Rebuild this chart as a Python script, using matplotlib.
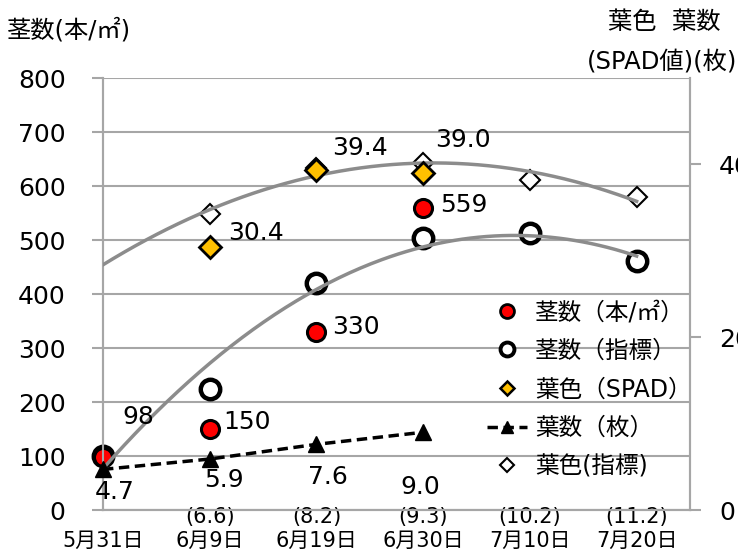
import matplotlib
matplotlib.use("Agg")
import matplotlib.pyplot as plt
import numpy as np
from matplotlib.lines import Line2D

plt.rcParams['font.family'] = ['DejaVu Sans', 'Noto Sans CJK JP']

# ---- data ----
dates = ['5月31日', '6月9日', '6月19日', '6月30日', '7月10日', '7月20日']
stem_count = [98, 150, 330, 559]              # 5/31..6/30 (本/㎡)
stem_index = [100, 224, 420, 504, 513, 461]   # 5/31..7/20
spad = [30.4, 39.4, 39.0]                     # 6/9..6/30
leaf_count = [4.7, 5.9, 7.6, 9.0]             # 5/31..6/30
leaf_index = ['(6.6)', '(8.2)', '(9.3)', '(10.2)', '(11.2)']  # 6/9..7/20
color_index = [34.3, 39.6, 40.2, 38.2, 36.2]  # 6/9..7/20

CJK = ['DejaVu Sans', 'Noto Sans CJK JP']
grid_c = '#A6A6A6'

fig = plt.figure(figsize=(7.38, 5.54), dpi=100)
ax = fig.add_axes([103/738, 1-510/554, 587/738, 432/554])
ax2 = ax.twinx()

ax.set_xlim(0, 5.5)
ax.set_ylim(0, 800)
ax2.set_ylim(0, 50)

ax.set_yticks(np.arange(0, 801, 100))
ax2.set_yticks([0, 20, 40])
ax.yaxis.grid(True, color=grid_c, lw=1.5)
ax.set_axisbelow(True)
for a in (ax, ax2):
    for s in a.spines.values():
        s.set_color(grid_c)
        s.set_linewidth(1.5)
    a.spines['top'].set_visible(False)
ax.tick_params(axis='y', length=8, width=1.5, color=grid_c, labelsize=18, pad=19)
ax2.tick_params(axis='y', length=8, width=1.5, color=grid_c, labelsize=18, pad=13)

ax.set_xticks(range(len(dates)))
ax.set_xticklabels(dates, fontsize=15, family=CJK)
ax.tick_params(axis='x', length=0, pad=15)

x_all = np.arange(len(dates))

# stem index (hollow circles) + trend
ax.plot(x_all, stem_index, ls='none', marker='o', ms=14, mfc='white', mec='black',
        mew=3.2, clip_on=False, zorder=3)
c1 = np.polyfit(x_all, stem_index, 2)
xs = np.linspace(0, 5, 200)
ax.plot(xs, np.polyval(c1, xs), color='#8C8C8C', lw=2.5, zorder=4)

# stem count (red)
x_sc = np.arange(len(stem_count))
ax.plot(x_sc, stem_count, ls='none', marker='o', ms=13, mfc='#FF0000', mec='black',
        mew=2.2, clip_on=False, zorder=3.5)
sc_off = [(19, 40), (14, 7), (16, 5), (17, 3)]
for xi, v, (dx, dy) in zip(x_sc, stem_count, sc_off):
    ax.annotate(f'{v}', (xi, v), xytext=(dx, dy), textcoords='offset pixels',
                ha='left', va='center', fontsize=18, zorder=6)

# right axis: leaf colour index (hollow diamonds) + trend
x_ci = np.arange(1, 6)
ax2.plot(x_ci, color_index, ls='none', marker='D', ms=10, mfc='white', mec='black',
         mew=1.5, zorder=3)
c2 = np.polyfit(x_ci, color_index, 2)
ax2.plot(xs, np.polyval(c2, xs), color='#8C8C8C', lw=2.5, zorder=4)

# SPAD (gold diamonds)
x_sp = np.arange(1, 4)
ax2.plot(x_sp, spad, ls='none', marker='D', ms=11, mfc='#FFC000', mec='black',
         mew=2.0, zorder=5)
sp_off = [(18, 14), (16, 22), (12, 33)]
for xi, v, (dx, dy) in zip(x_sp, spad, sp_off):
    ax2.annotate(f'{v:.1f}', (xi, v), xytext=(dx, dy), textcoords='offset pixels',
                 ha='left', va='center', fontsize=18, zorder=6)

# leaf count (triangles, dashed)
x_lc = np.arange(len(leaf_count))
ax2.plot(x_lc, leaf_count, color='black', ls=(0, (3, 1.6)), lw=2.5, marker='^', ms=11,
         mfc='black', mec='black', clip_on=False, zorder=5)
lc_off = [(12, -23), (14, -21), (11, -33), (-3, -55)]
for xi, v, (dx, dy) in zip(x_lc, leaf_count, lc_off):
    ax2.annotate(f'{v:.1f}', (xi, v), xytext=(dx, dy), textcoords='offset pixels',
                 ha='center', va='center', fontsize=18, zorder=6)

# leaf count index labels below axis
for xi, t in zip(x_ci, leaf_index):
    ax.annotate(t, (xi, 0), xytext=(0, -7), textcoords='offset pixels',
                ha='center', va='center', fontsize=15, annotation_clip=False)

# axis titles
fig.text(7/738, 1-30/554, '茎数(本/㎡)', fontsize=17.5, family=CJK, ha='left', va='center')
fig.text(720/738, 1-22/554, '葉色  葉数', fontsize=17.5, family=CJK, ha='right', va='center')
fig.text(737/738, 1-62/554, '(SPAD値)(枚)', fontsize=17.5, family=CJK, ha='right', va='center')

# legend
handles = [
    Line2D([], [], ls='none', marker='o', ms=10, mfc='#FF0000', mec='black', mew=2),
    Line2D([], [], ls='none', marker='o', ms=10, mfc='white', mec='black', mew=2.8),
    Line2D([], [], ls='none', marker='D', ms=7, mfc='#FFC000', mec='black', mew=1.8),
    Line2D([], [], color='black', ls=(0, (3, 1.6)), lw=2.5, marker='^', ms=8, mfc='black'),
    Line2D([], [], ls='none', marker='D', ms=7, mfc='white', mec='black', mew=1.5),
]
labels = ['茎数（本/㎡）', '茎数（指標）', '葉色（SPAD）', '葉数（枚）', '葉色(指標)']
leg = fig.legend(handles, labels, loc='upper left', bbox_to_anchor=(487/738, 1-300/554),
                 frameon=False, borderpad=0, borderaxespad=0, handlelength=1.7,
                 handletextpad=0.35, labelspacing=0.62,
                 prop={'family': CJK, 'size': 17})

fig.savefig('out.png', dpi=100)
